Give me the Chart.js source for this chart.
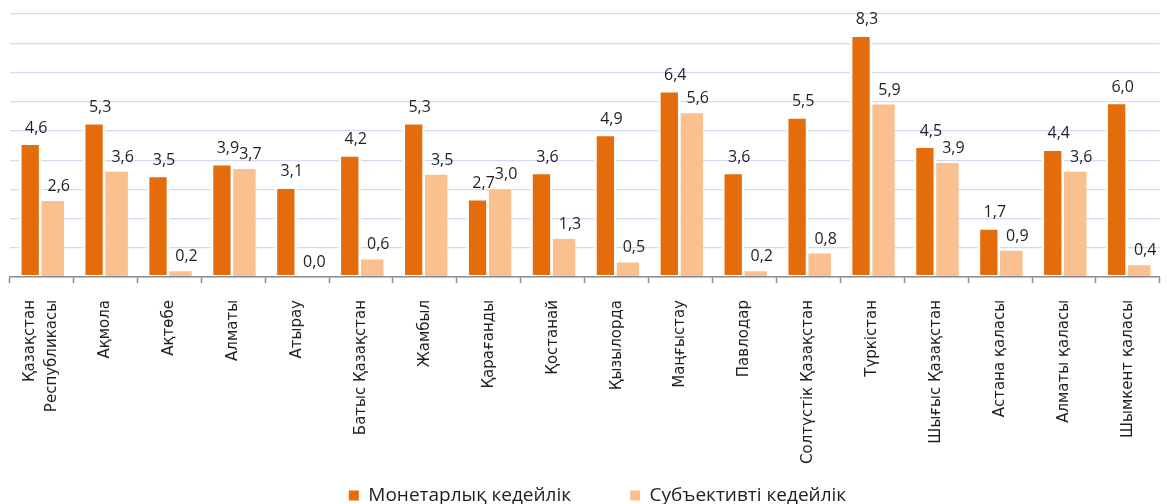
<!DOCTYPE html>
<html>
<head>
<meta charset="utf-8">
<script src="https://cdn.jsdelivr.net/npm/chart.js@4.4.0/dist/chart.umd.min.js"></script>
<style>
  html, body { margin: 0; padding: 0; background: #fff; }
  #wrap { position: relative; width: 1167px; height: 504px; }
</style>
</head>
<body>
<div id="wrap"><canvas id="povertyChart"></canvas></div>
<script>
// ── Data ──
const regions = [
  ['Қазақстан', 'Республикасы'], 'Ақмола', 'Ақтөбе', 'Алматы', 'Атырау',
  'Батыс Қазақстан', 'Жамбыл', 'Қарағанды', 'Қостанай', 'Қызылорда',
  'Маңғыстау', 'Павлодар', 'Солтүстік Қазақстан', 'Түркістан',
  'Шығыс Қазақстан', 'Астана қаласы', 'Алматы қаласы', 'Шымкент қаласы'
];
const monetary   = [4.6, 5.3, 3.5, 3.9, 3.1, 4.2, 5.3, 2.7, 3.6, 4.9, 6.4, 3.6, 5.5, 8.3, 4.5, 1.7, 4.4, 6.0];
const subjective = [2.6, 3.6, 0.2, 3.7, 0.0, 0.6, 3.5, 3.0, 1.3, 0.5, 5.6, 0.2, 0.8, 5.9, 3.9, 0.9, 3.6, 0.4];
const seriesNames = ['Монетарлық кедейлік', 'Субъективті кедейлік'];

const colors = {
  dark: '#e46c0a',
  light: '#fac090',
  grid: '#d6d6f5',
  axis: '#8c8c8c',
  text: '#1f1f1f',
};

// value labels above every bar (comma decimal) + small layout tweaks
const valueLabels = {
  id: 'valueLabels',
  afterLayout(chart) {
    // legend group sits a bit right of centre in the original
    chart.legend.left += 10;
    chart.legend.right += 10;
  },
  beforeDraw(chart) {
    // centre multi-line x labels on their tick (Chart.js puts line 1 on the tick)
    chart.scales.x.getLabelItems().forEach(it => {
      if (Array.isArray(it.label)) it.options.translation[0] -= 11;
    });
  },
  afterDatasetsDraw(chart) {
    const ctx = chart.ctx;
    const y = chart.scales.y;
    ctx.save();
    ctx.font = '16px "Open Sans"';
    ctx.fillStyle = colors.text;
    ctx.textAlign = 'center';
    ctx.textBaseline = 'alphabetic';
    chart.data.datasets.forEach((ds, i) => {
      chart.getDatasetMeta(i).data.forEach((bar, j) => {
        const v = ds.data[j];
        ctx.fillText(v.toFixed(1).replace('.', ','), bar.x + 6, y.getPixelForValue(v) - 10);
      });
    });
    ctx.restore();
  }
};

new Chart(document.getElementById('povertyChart'), {
  type: 'bar',
  data: {
    labels: regions,
    datasets: [{
      label: seriesNames[0],
      data: monetary,
      backgroundColor: colors.dark,
      borderColor: '#ffffff',
      borderWidth: { top: 2.5, left: 2.6, right: 2.6, bottom: 1.5 },
      borderSkipped: false,
      barPercentage: 1.0,
      categoryPercentage: 0.704,
    }, {
      label: seriesNames[1],
      data: subjective,
      backgroundColor: colors.light,
      borderWidth: 0,
      barPercentage: 1.0,
      categoryPercentage: 0.704,
    }],
  },
  options: {
    responsive: true,
    maintainAspectRatio: false,
    animation: false,
    layout: { padding: { top: 14, left: 9.5, right: 1.5, bottom: -11 } },
    plugins: {
      tooltip: { enabled: false },
      legend: {
        position: 'bottom',
        labels: {
          color: colors.text,
          font: { family: '"Open Sans"', size: 19 },
          boxWidth: 10,
          boxHeight: 10,
          padding: 2,
          generateLabels(chart) {
            const items = Chart.defaults.plugins.legend.labels.generateLabels(chart);
            items.forEach(it => { it.lineWidth = 0; it.strokeStyle = it.fillStyle; });
            items[0].text += '\u2003\u2003\u2003';
            return items;
          },
        },
      },
    },
    scales: {
      x: {
        afterFit(s) { s.height = 207; },
        ticks: {
          color: colors.text,
          font: { family: '"DejaVu Sans"', size: 15, lineHeight: 1.47 },
          minRotation: 90,
          maxRotation: 90,
          padding: 17,
          autoSkip: false,
        },
        grid: {
          display: true,
          drawOnChartArea: false,
          tickLength: 6,
          tickColor: colors.axis,
          tickWidth: 1.5,
          z: 1,
        },
        border: { display: true, color: colors.axis, width: 1.5, z: 1 },
      },
      y: {
        min: 0,
        max: 9,
        afterFit(s) { s.width = 0; },
        ticks: { display: false, stepSize: 1 },
        grid: { color: colors.grid, lineWidth: 1.2, drawTicks: false },
        border: { display: false },
      },
    },
  },
  plugins: [valueLabels],
});
</script>
</body>
</html>
